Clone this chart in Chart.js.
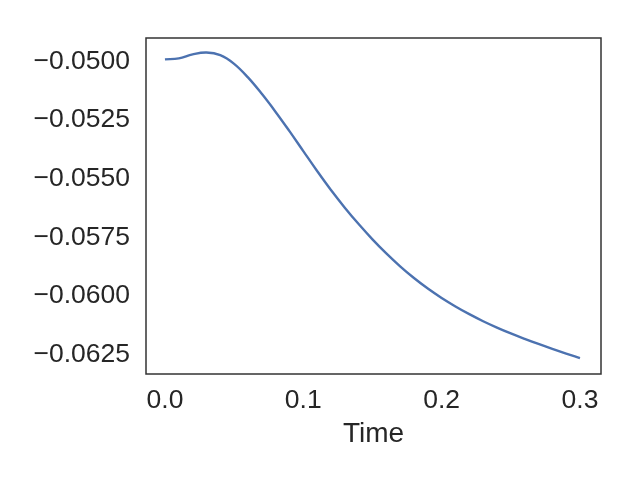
<!DOCTYPE html>
<html>
<head>
<meta charset="utf-8">
<script src="https://cdn.jsdelivr.net/npm/chart.js@4/dist/chart.umd.min.js"></script>
<style>
  html, body { margin: 0; padding: 0; background: #fff; }
  #wrap { width: 640px; height: 480px; }
</style>
</head>
<body>
<div id="wrap"><canvas id="chartCanvas" width="640" height="480"></canvas></div>
<script>
const canvas = document.getElementById('chartCanvas');
const c = canvas.getContext('2d');

// values
const times = [0.00, 0.01, 0.02, 0.03, 0.04, 0.05, 0.06, 0.07, 0.08, 0.09,
               0.10, 0.11, 0.12, 0.13, 0.14, 0.15, 0.16, 0.17, 0.18, 0.19,
               0.20, 0.21, 0.22, 0.23, 0.24, 0.25, 0.26, 0.27, 0.28, 0.29, 0.30];
const values = [-0.05000, -0.04996, -0.04979, -0.04971, -0.04982, -0.05019, -0.05077, -0.05147, -0.05224, -0.05306,
                -0.05391, -0.05476, -0.05557, -0.05632, -0.05702, -0.05767, -0.05827, -0.05882, -0.05932, -0.05977,
                -0.06017, -0.06053, -0.06086, -0.06116, -0.06143, -0.06168, -0.06191, -0.06213, -0.06234, -0.06254, -0.06273];
const xTicks = [0.0, 0.1, 0.2, 0.3];
const yTicks = [-0.0500, -0.0525, -0.0550, -0.0575, -0.0600, -0.0625];
const xLabel = 'Time';

const textColor = '#262626';
const fontFamily = 'Arial, "Liberation Sans", sans-serif';

const points = times.map((t, i) => ({ x: t, y: values[i] }));

const frame = {
    id: 'frame',
    afterDraw(chart) {
        const a = chart.chartArea;
        c.save();
        c.strokeStyle = '#333333';
        c.lineWidth = 1.5;
        c.strokeRect(a.left, a.top, a.right - a.left, a.bottom - a.top);
        c.restore();
    }
};

const fmtMinus = (v, digits) => {
    const s = Math.abs(v).toFixed(digits);
    return (v < 0 ? '\u2212' : '') + s;
};

new Chart(c, {
    type: 'line',
    data: {
        datasets: [{
            data: points,
            borderColor: '#4c72b0',
            borderWidth: 2.4,
            pointRadius: 0,
            fill: false,
            tension: 0.4
        }]
    },
    options: {
        responsive: false,
        animation: false,
        layout: { padding: { top: 38, right: 39, bottom: 0, left: 0 } },
        plugins: { legend: { display: false }, tooltip: { enabled: false } },
        scales: {
            x: {
                type: 'linear',
                min: -0.0137,
                max: 0.3152,
                grid: { display: false, drawTicks: false },
                border: { display: false },
                afterBuildTicks: (scale) => { scale.ticks = xTicks.map(v => ({ value: v })); },
                afterFit: (scale) => { scale.height = 106; },
                ticks: {
                    color: textColor,
                    padding: 11,
                    maxRotation: 0,
                    font: { family: fontFamily, size: 26.5 },
                    callback: (v) => fmtMinus(v, 1)
                },
                title: {
                    display: true,
                    text: xLabel,
                    color: textColor,
                    padding: { top: 0, bottom: 29 },
                    font: { family: fontFamily, size: 28 }
                }
            },
            y: {
                type: 'linear',
                min: -0.06341,
                max: -0.04909,
                grid: { display: false, drawTicks: false },
                border: { display: false },
                afterBuildTicks: (scale) => { scale.ticks = yTicks.map(v => ({ value: v })); },
                afterFit: (scale) => { scale.width = 146; },
                ticks: {
                    color: textColor,
                    padding: 16,
                    labelOffset: 2,
                    font: { family: fontFamily, size: 26.5 },
                    callback: (v) => fmtMinus(v, 4)
                }
            }
        }
    },
    plugins: [frame]
});
</script>
</body>
</html>
